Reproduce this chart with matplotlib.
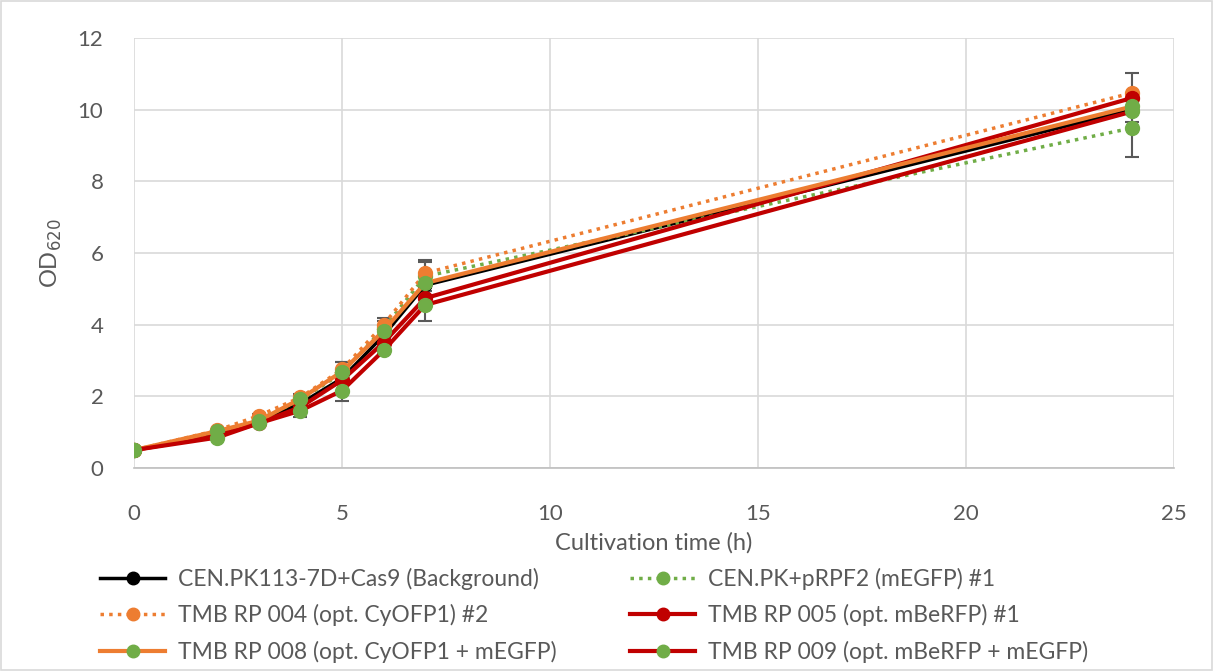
import matplotlib
matplotlib.use('Agg')
from matplotlib import pyplot as plt

plt.rcParams['font.family'] = ['Lato', 'DejaVu Sans']

hours = [0, 2, 3, 4, 5, 6, 7, 24]

background = [0.5, 0.95, 1.3, 1.8, 2.5, 3.7, 5.1, 10.0]
egfp_1 = [0.5, 1.0, 1.35, 1.9, 2.65, 3.9, 5.35, 9.49]
cyofp_2 = [0.5, 1.05, 1.46, 1.97, 2.75, 4.0, 5.44, 10.47]
berfp_1 = [0.5, 0.9, 1.25, 1.7, 2.45, 3.5, 4.74, 10.33]
cyofp_egfp = [0.5, 1.03, 1.32, 1.93, 2.69, 3.83, 5.16, 10.09]
berfp_egfp = [0.5, 0.85, 1.25, 1.6, 2.16, 3.28, 4.55, 9.95]

err_egfp_1 = [0, 0, 0.05, 0.1, 0.3, 0.2, 0.4, 0.82]
err_cyofp_2 = [0, 0, 0.05, 0.1, 0.2, 0.18, 0.37, 0.55]
err_berfp_egfp = [0, 0, 0.05, 0.18, 0.3, 0.1, 0.46, 0.3]

labels = ['CEN.PK113-7D+Cas9 (Background)', 'CEN.PK+pRPF2 (mEGFP) #1',
          'TMB RP 004 (opt. CyOFP1) #2', 'TMB RP 005 (opt. mBeRFP) #1',
          'TMB RP 008 (opt. CyOFP1 + mEGFP)', 'TMB RP 009 (opt. mBeRFP + mEGFP)']

black = '#000000'
green = '#70ad47'
orange = '#ed7d31'
red = '#c00000'

fig = plt.figure(figsize=(12.13, 6.71), dpi=100)
ax = fig.add_axes([134 / 1213, 1 - 468 / 671, 1040 / 1213, 430 / 671])

err_kw = dict(fmt='none', ecolor='#595959', elinewidth=1.5, capsize=5, capthick=1.5, zorder=2)
ax.errorbar(hours, egfp_1, yerr=err_egfp_1, **err_kw)
ax.errorbar(hours, cyofp_2, yerr=err_cyofp_2, **err_kw)
ax.errorbar(hours, berfp_egfp, yerr=err_berfp_egfp, **err_kw)

dot = (0, (1, 1.5))
lines = []
lines += ax.plot(hours, background, color=black, lw=2.5, marker='o', ms=9, zorder=3)
lines += ax.plot(hours, egfp_1, color=green, lw=2.5, ls=dot, marker='o', ms=10, zorder=3)
lines += ax.plot(hours, cyofp_2, color=orange, lw=2.5, ls=dot, marker='o', ms=10, zorder=3)
lines += ax.plot(hours, berfp_1, color=red, lw=3, marker='o', ms=10, zorder=3)
lines += ax.plot(hours, cyofp_egfp, color=orange, lw=3, marker='o', ms=10, mfc=green, mec=green, zorder=3)
lines += ax.plot(hours, berfp_egfp, color=red, lw=3, marker='o', ms=10, mfc=green, mec=green, zorder=3)

ax.set_xlim(0, 25)
ax.set_ylim(0, 12)
ax.set_xticks(range(0, 26, 5))
ax.set_yticks(range(0, 13, 2))
ax.grid(True, color='#d9d9d9', lw=1.2)
ax.set_axisbelow(True)
for s in ['top', 'right', 'left']:
    ax.spines[s].set_visible(False)
ax.spines['bottom'].set_color('#bfbfbf')
ax.spines['bottom'].set_linewidth(1.2)
ax.tick_params(axis='x', length=0, labelsize=16, colors='#595959', pad=26)
ax.tick_params(axis='y', length=0, labelsize=16, colors='#595959', pad=22)
ax.set_xlabel('Cultivation time (h)', fontsize=17, color='#595959', labelpad=6)
ax.set_ylabel('OD$_{620}$', fontsize=17, color='#595959', labelpad=10)

# legend is filled row by row in the reference
order = [0, 2, 4, 1, 3, 5]
leg = fig.legend([lines[i] for i in order], [labels[i] for i in order],
                 loc='upper left', bbox_to_anchor=(100 / 1213, 1 - 568 / 671), ncol=2,
                 frameon=False, fontsize=16.5, handlelength=2.85, handletextpad=0.55,
                 columnspacing=3.2, labelspacing=0.62, borderpad=0, borderaxespad=0,
                 labelcolor='#595959')
for h in leg.legend_handles:
    h.set_markersize(9)

fig.patches.append(plt.Rectangle((0.001, 0.001), 0.998, 0.998, transform=fig.transFigure,
                                 fill=False, edgecolor='#d9d9d9', lw=1.2))

fig.savefig('out.png', dpi=100)
